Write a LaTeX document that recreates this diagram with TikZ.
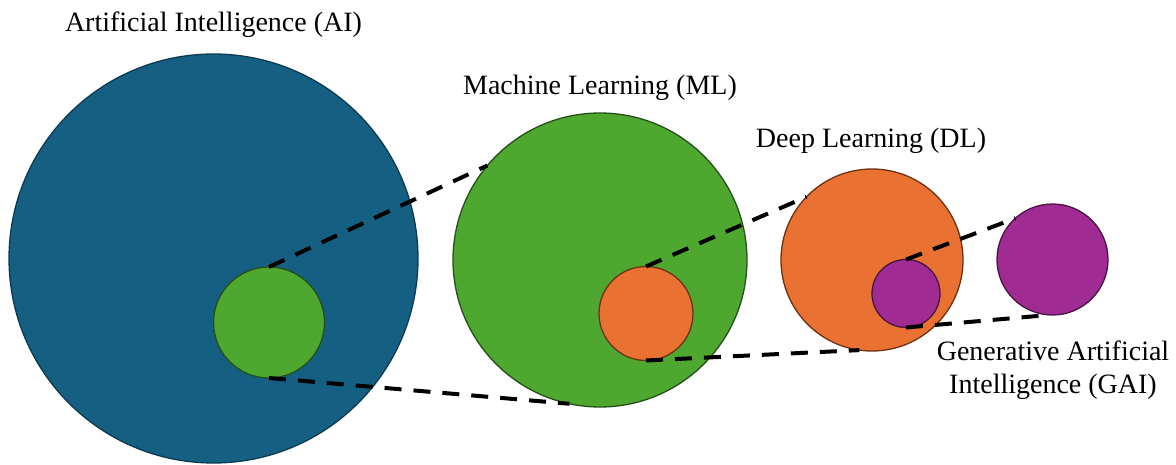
\documentclass[tikz,border=0pt]{standalone}
\usepackage{fontspec}
\setmainfont{Liberation Serif}
\usetikzlibrary{positioning}

\definecolor{aiblue}{HTML}{156082}
\definecolor{aiblueline}{HTML}{0C3B51}
\definecolor{mlgreen}{HTML}{4EA72E}
\definecolor{mlgreenline}{HTML}{25501A}
\definecolor{dlorange}{HTML}{E97132}
\definecolor{dlorangeline}{HTML}{6E3214}
\definecolor{gaipurple}{HTML}{A02B93}
\definecolor{gaipurpleline}{HTML}{4A1343}

\begin{document}
\begin{tikzpicture}[x=1pt, y=-1pt,
  setnode/.style={circle, inner sep=0pt, outer sep=0pt, line width=1.3pt},
  ainode/.style={setnode, fill=aiblue, draw=aiblueline},
  mlnode/.style={setnode, fill=mlgreen, draw=mlgreenline},
  dlnode/.style={setnode, fill=dlorange, draw=dlorangeline},
  gainode/.style={setnode, fill=gaipurple, draw=gaipurpleline},
  titlenode/.style={font=\fontsize{28}{33}\selectfont, anchor=base, inner sep=0pt, align=center},
  zoomline/.style={black, line width=4pt, dash pattern=on 17pt off 12pt}]
  \useasboundingbox (0,0) rectangle (1176,465);

  % Circles, each with the next one inside it
  \node[ainode, minimum size=409pt] (AI) at (213.5,258.5) {};
  \node[mlnode, minimum size=111pt] (MLin) at (269,322.5) {};
  \node[mlnode, minimum size=294pt] (ML) at (600,260) {};
  \node[dlnode, minimum size=94pt] (DLin) at (646,313.5) {};
  \node[dlnode, minimum size=182pt] (DL) at (872,260) {};
  \node[gainode, minimum size=68pt] (GAIin) at (906,293.5) {};
  \node[gainode, minimum size=111pt] (GAI) at (1052.5,259.5) {};

  % Titles (base = last line)
  \node[titlenode] (AItitle) at (213.5,32) {Artificial Intelligence (AI)};
  \node[titlenode] (MLtitle) at (600,95) {Machine Learning (ML)};
  \node[titlenode] (DLtitle) at (871,148) {Deep Learning (DL)};
  \node[titlenode] (GAItitle) at (1053,393) {Generative Artificial\\Intelligence (GAI)};

  % Zoom lines
  \draw[zoomline] (MLin.north) -- (ML.140);
  \draw[zoomline] (MLin.south) -- (ML.258);
  \draw[zoomline] (DLin.north) -- (DL.136);
  \draw[zoomline] (DLin.south) -- (DL.262);
  \draw[zoomline] (GAIin.north) -- (GAI.132);
  \draw[zoomline] (GAIin.south) -- (GAI.267);
\end{tikzpicture}
\end{document}
